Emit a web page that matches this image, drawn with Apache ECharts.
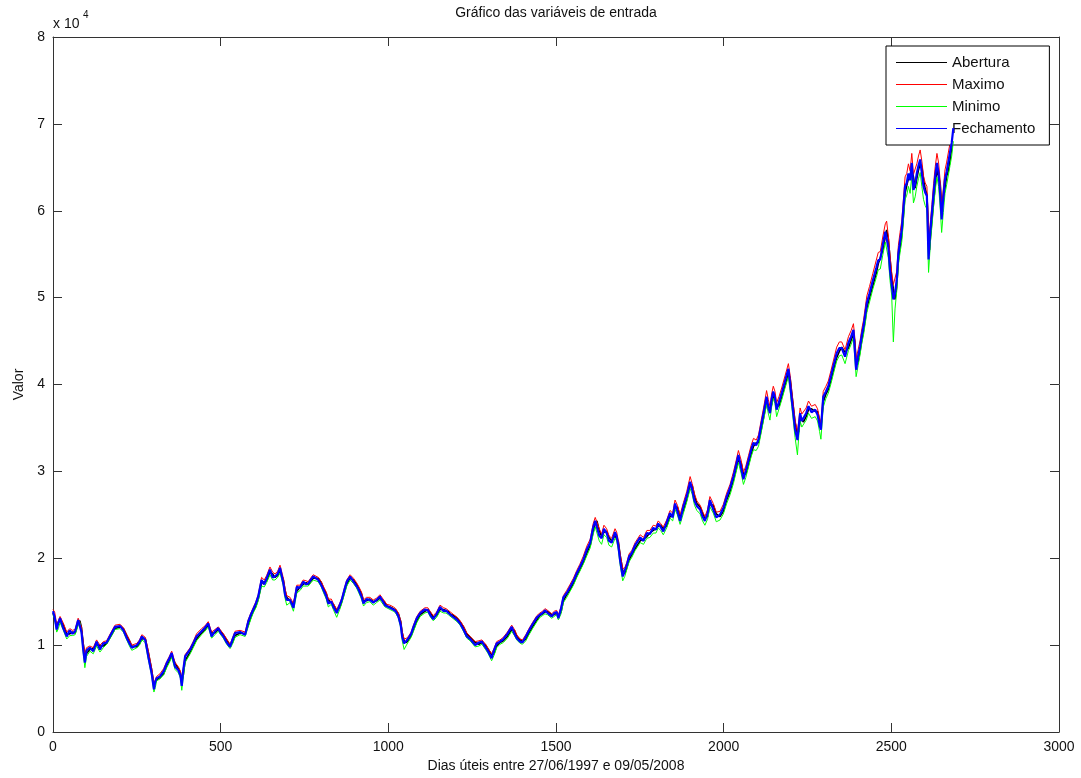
<!DOCTYPE html>
<html>
<head>
<meta charset="utf-8">
<title>Gráfico das variáveis de entrada</title>
<script src="https://cdn.jsdelivr.net/npm/echarts@6/dist/echarts.min.js"></script>
<style>
  html, body { margin: 0; padding: 0; background: #fff; }
  #chart { width: 1081px; height: 778px; }
</style>
</head>
<body>
<div id="chart"></div>
<script>
// dias úteis (eixo x) e valores
const dias = [
  0, 5, 11, 16, 21, 30, 41, 50, 58, 66, 75, 80, 85, 90, 95, 100, 110, 120, 130, 140,
  150, 160, 172, 185, 200, 210, 220, 228, 235, 250, 258, 265, 275, 284, 294, 301, 305, 309, 319, 330,
  339, 347, 354, 364, 374, 380, 384, 388, 394, 409, 418, 428, 443, 453, 463, 473, 483, 493, 500, 508,
  518, 528, 535, 543, 558, 573, 582, 590, 597, 605, 612, 622, 630, 637, 647, 655, 662, 670, 677, 687,
  692, 697, 707, 717, 727, 737, 746, 755, 761, 770, 776, 791, 800, 806, 815, 821, 830, 836, 846, 855,
  861, 870, 876, 886, 896, 905, 911, 920, 926, 935, 945, 955, 965, 975, 980, 990, 995, 1005, 1015, 1022,
  1030, 1037, 1041, 1047, 1054, 1060, 1068, 1075, 1085, 1095, 1109, 1118, 1126, 1134, 1144, 1154, 1165, 1172, 1179, 1184,
  1195, 1205, 1214, 1224, 1234, 1244, 1259, 1270, 1279, 1290, 1298, 1308, 1315, 1323, 1333, 1343, 1355, 1368, 1376, 1383,
  1393, 1400, 1410, 1418, 1430, 1443, 1452, 1460, 1467, 1475, 1487, 1495, 1502, 1507, 1515, 1522, 1532, 1542, 1552, 1562,
  1571, 1581, 1592, 1602, 1611, 1617, 1622, 1629, 1636, 1643, 1651, 1658, 1666, 1676, 1681, 1686, 1691, 1699, 1705, 1711,
  1718, 1726, 1736, 1751, 1761, 1771, 1780, 1790, 1798, 1805, 1812, 1820, 1830, 1840, 1848, 1855, 1862, 1870, 1880, 1890,
  1900, 1906, 1913, 1920, 1930, 1937, 1944, 1952, 1959, 1969, 1978, 1989, 1999, 2009, 2019, 2029, 2037, 2044, 2052, 2059,
  2066, 2074, 2082, 2089, 2097, 2104, 2112, 2119, 2128, 2133, 2138, 2143, 2148, 2153, 2158, 2165, 2173, 2183, 2193, 2198,
  2203, 2208, 2213, 2220, 2224, 2228, 2233, 2238, 2246, 2253, 2262, 2273, 2280, 2286, 2290, 2297, 2305, 2312, 2320, 2327,
  2337, 2345, 2352, 2362, 2372, 2380, 2387, 2391, 2395, 2401, 2407, 2412, 2417, 2422, 2427, 2435, 2445, 2455, 2461, 2467,
  2475, 2482, 2486, 2491, 2496, 2501, 2506, 2511, 2516, 2521, 2526, 2531, 2536, 2541, 2546, 2551, 2556, 2561, 2566, 2571,
  2576, 2581, 2586, 2591, 2596, 2601, 2606, 2611, 2614, 2617, 2621, 2626, 2631, 2636, 2641, 2646, 2650, 2655, 2660, 2665,
  2670, 2675, 2680, 2685
];

const abertura = [
  13700, 13600, 12300, 12100, 12800, 12400, 11300, 11300, 11500, 11400, 12500, 12800, 12000, 10200, 8800, 8900, 9500, 9600, 10100, 9900,
  9900, 10200, 11000, 11900, 12100, 11900, 11100, 10500, 9900, 9800, 10200, 10700, 10800, 9200, 7200, 5400, 5300, 6000, 6300, 6700,
  7600, 8200, 8800, 7900, 7300, 6800, 5800, 6400, 8200, 9200, 9900, 10700, 11400, 11800, 12300, 11400, 11400, 11800, 11600, 11200,
  10600, 10000, 10300, 11100, 11400, 11300, 12300, 13200, 13900, 14500, 15300, 17100, 17300, 17400, 18400, 18200, 17800, 18000, 18600, 17500,
  16300, 15500, 15100, 14700, 16200, 16700, 17000, 17200, 17000, 17400, 17700, 17700, 17200, 16600, 15900, 15200, 14900, 14700, 14000, 14300,
  15000, 16200, 17000, 17700, 17500, 17000, 16600, 15900, 15100, 15100, 15300, 15000, 15100, 15400, 15500, 14900, 14500, 14400, 14200, 14000,
  13600, 12700, 11500, 10500, 10300, 10600, 11100, 11800, 12800, 13500, 13900, 14100, 13700, 13200, 13400, 14100, 14100, 13900, 13900, 13600,
  13400, 13100, 12700, 12100, 11300, 10900, 10300, 10100, 10300, 10000, 9500, 8900, 9000, 9900, 10300, 10500, 11000, 11800, 11700, 11000,
  10600, 10400, 10700, 11300, 12100, 12900, 13400, 13600, 13800, 13900, 13500, 13500, 13700, 13400, 13800, 15100, 15800, 16400, 17100, 18000,
  18700, 19500, 20600, 21500, 23100, 24000, 24300, 23200, 22500, 23000, 23100, 22400, 22000, 22600, 22800, 21900, 20400, 18600, 18200, 18900,
  19800, 20400, 21100, 22000, 22200, 22500, 22900, 23200, 23400, 23700, 23800, 23400, 23700, 24800, 25000, 25800, 25900, 24800, 25500, 26800,
  28300, 28400, 27200, 26300, 25900, 25200, 24600, 24800, 26200, 26100, 25100, 24800, 25400, 26700, 27700, 29000, 30200, 31400, 31000, 29700,
  29700, 30800, 32000, 32900, 33300, 33300, 34800, 36200, 38000, 38000, 37100, 37700, 38800, 38900, 37700, 37500, 38600, 39900, 41200, 40800,
  39000, 37300, 35600, 34300, 34600, 36100, 36300, 35700, 36300, 37100, 37200, 36900, 36900, 35800, 35100, 38000, 38900, 39400, 40500, 41600,
  43100, 43800, 44300, 43700, 44200, 45100, 45800, 45000, 42600, 42600, 43900, 45100, 46200, 47400, 48800, 50000, 51400, 52800, 53900, 54600,
  55500, 57000, 57800, 56800, 54500, 52400, 51000, 49800, 51200, 54300, 55800, 57100, 59400, 62000, 62900, 63700, 64000, 64700, 63900, 62600,
  63700, 64700, 65400, 65100, 63600, 62500, 61900, 57500, 55500, 57200, 58900, 61000, 63000, 64800, 64900, 63000, 60300, 60200, 62600, 64000,
  64600, 65800, 67200, 68700
];

const maximo = [
  14100, 13800, 12400, 12800, 13300, 12600, 11500, 11900, 11700, 11800, 13100, 13100, 12100, 10400, 9000, 9700, 9900, 9700, 10600, 10000,
  10400, 10500, 11400, 12300, 12400, 12000, 11200, 10600, 10000, 10200, 10600, 11200, 10900, 9400, 7400, 5600, 6000, 6400, 6700, 7300,
  8100, 8700, 9300, 8000, 7500, 7000, 6000, 7200, 8900, 9700, 10400, 11300, 11900, 12200, 12700, 11500, 11800, 12100, 11700, 11300,
  10700, 10100, 10800, 11600, 11700, 11500, 12900, 13700, 14300, 15000, 15800, 17800, 17500, 18000, 19000, 18400, 18200, 18500, 19200, 17700,
  16500, 15700, 15500, 14800, 16900, 16900, 17500, 17400, 17300, 17800, 18100, 17800, 17300, 16800, 16100, 15300, 15300, 14800, 14100, 14800,
  15400, 16700, 17500, 18100, 17700, 17200, 16800, 16100, 15200, 15500, 15500, 15200, 15400, 15800, 15700, 15000, 14700, 14600, 14400, 14200,
  13700, 12800, 11600, 10700, 10800, 11000, 11500, 12300, 13300, 13900, 14300, 14300, 13800, 13400, 13800, 14600, 14300, 14200, 14000, 13800,
  13500, 13200, 12800, 12200, 11400, 11000, 10400, 10500, 10600, 10100, 9600, 9000, 9600, 10400, 10600, 10900, 11500, 12300, 11800, 11200,
  10700, 10600, 11200, 11800, 12600, 13400, 13700, 13900, 14200, 14000, 13600, 13900, 14000, 13500, 14400, 15700, 16300, 17000, 17700, 18600,
  19300, 20200, 21400, 22200, 24000, 24700, 24600, 23400, 22800, 23800, 23400, 22600, 22300, 23400, 23000, 22000, 20600, 18800, 18900, 19500,
  20500, 20900, 21800, 22700, 22400, 23200, 23200, 23800, 23700, 24300, 24000, 23600, 24400, 25500, 25200, 26700, 26100, 25000, 26400, 27700,
  29400, 28600, 27400, 26600, 26100, 25400, 24800, 25600, 27100, 26300, 25300, 25400, 26200, 27500, 28500, 29900, 31200, 32400, 31300, 29900,
  30600, 31800, 33000, 33800, 33600, 34200, 35900, 37300, 39300, 38300, 37500, 38900, 39800, 39200, 37900, 38600, 39600, 41000, 42400, 41100,
  39300, 37600, 35900, 34600, 35800, 37300, 36600, 36500, 37300, 38100, 37500, 37700, 37200, 36100, 35500, 39200, 39800, 40400, 41600, 42700,
  44300, 44900, 44900, 44000, 45500, 46200, 47000, 45400, 43000, 44000, 45100, 46400, 47400, 48800, 50200, 51300, 52800, 54300, 55200, 55300,
  57100, 58500, 58800, 57100, 54900, 52900, 51500, 51600, 53000, 56000, 57500, 58800, 61300, 63900, 64300, 65400, 64600, 66600, 64200, 64200,
  65400, 66300, 67000, 65700, 64000, 63200, 62800, 58200, 57400, 59000, 60700, 63100, 65100, 66600, 65500, 63300, 60600, 62500, 64700, 65600,
  65800, 67800, 68900, 70700
];

const minimo = [
  13500, 13000, 11500, 11900, 12600, 11800, 10700, 11100, 11100, 11200, 12300, 12600, 11200, 9200, 7400, 8700, 9300, 9000, 9900, 9200,
  9700, 10100, 10900, 11800, 11900, 11500, 10600, 9900, 9400, 9700, 10000, 10600, 10300, 8400, 6500, 4600, 5100, 5900, 6100, 6600,
  7400, 8000, 8600, 7200, 6800, 6200, 4800, 6100, 8000, 9000, 9700, 10500, 11200, 11600, 12100, 10800, 11200, 11600, 11200, 10800,
  10100, 9600, 10100, 10900, 11200, 11000, 12100, 13000, 13700, 14300, 15100, 16800, 16700, 17200, 18100, 17500, 17500, 17800, 18300, 16800,
  15400, 14600, 14900, 13900, 16000, 16300, 16800, 16800, 16800, 17200, 17500, 17300, 16700, 16100, 15300, 14400, 14700, 14100, 13200, 14100,
  14800, 16000, 16800, 17500, 17100, 16600, 16100, 15300, 14500, 14900, 15000, 14600, 14900, 15200, 15200, 14400, 14200, 14100, 13900, 13700,
  13100, 12000, 10600, 9500, 10000, 10400, 10900, 11600, 12600, 13300, 13700, 13800, 13200, 12800, 13200, 13900, 13700, 13700, 13500, 13300,
  13000, 12700, 12300, 11600, 10800, 10500, 9800, 9900, 10100, 9500, 9000, 8200, 8800, 9700, 10100, 10300, 10800, 11600, 11100, 10600,
  10200, 10100, 10500, 11100, 11900, 12700, 13200, 13400, 13600, 13500, 13100, 13300, 13500, 12900, 13600, 14900, 15500, 16200, 16900, 17800,
  18500, 19300, 20300, 21200, 22800, 23600, 23700, 22000, 21600, 22700, 22400, 21500, 21300, 22300, 22000, 20900, 19300, 17400, 17900, 18700,
  19600, 20100, 20900, 21800, 21600, 22300, 22400, 22900, 22900, 23500, 23200, 22700, 23500, 24600, 24300, 25600, 25000, 23900, 25200, 26500,
  28000, 27400, 26100, 25500, 25100, 24300, 23800, 24500, 25900, 25200, 24200, 24400, 25100, 26300, 27300, 28600, 29900, 31000, 29800, 28500,
  29300, 30500, 31700, 32500, 32400, 32900, 34500, 35900, 37700, 36700, 35900, 37400, 38400, 37800, 36300, 37200, 38200, 39600, 40900, 39300,
  37500, 35700, 33900, 31900, 34100, 35800, 35100, 35100, 35900, 36700, 36100, 36300, 35800, 34600, 33700, 37400, 38400, 39000, 40100, 41200,
  42700, 43300, 43400, 42400, 43900, 44600, 45400, 43100, 40900, 42200, 43500, 44800, 45700, 47000, 48300, 49500, 51000, 52300, 53200, 53300,
  55000, 56400, 56600, 54600, 52000, 50300, 44900, 48700, 50700, 53800, 55200, 56400, 58800, 61300, 61800, 62800, 62000, 64000, 60900, 61600,
  62800, 63700, 64400, 62800, 61300, 60600, 60200, 52900, 54700, 56600, 58200, 60500, 62400, 63900, 62800, 60200, 57500, 59800, 62000, 63000,
  63200, 65200, 66300, 68000
];

const fechamento = [
  13900, 13200, 11800, 12600, 13100, 12000, 11000, 11700, 11300, 11600, 12900, 12900, 11500, 9500, 8000, 9400, 9700, 9300, 10400, 9500,
  10200, 10300, 11200, 12100, 12200, 11700, 10800, 10200, 9700, 10000, 10400, 11000, 10600, 8700, 6800, 4900, 5800, 6200, 6400, 7000,
  7900, 8500, 9100, 7500, 7100, 6500, 5300, 7000, 8700, 9500, 10200, 11000, 11600, 12000, 12500, 11000, 11600, 11950, 11400, 11000,
  10300, 9800, 10600, 11400, 11500, 11200, 12700, 13500, 14100, 14800, 15600, 17500, 17000, 17700, 18700, 17800, 17900, 18200, 18900, 17100,
  15800, 15200, 15200, 14300, 16700, 16600, 17300, 17000, 17100, 17600, 17900, 17500, 16900, 16400, 15600, 14800, 15000, 14400, 13700, 14600,
  15200, 16500, 17300, 17900, 17300, 16800, 16400, 15600, 14800, 15300, 15200, 14900, 15200, 15600, 15400, 14600, 14400, 14300, 14100, 13900,
  13300, 12300, 11000, 10200, 10500, 10800, 11300, 12100, 13100, 13700, 14100, 14000, 13400, 13000, 13600, 14400, 13900, 14000, 13700, 13500,
  13200, 12900, 12500, 11800, 11000, 10700, 10000, 10300, 10400, 9700, 9250, 8500, 9400, 10200, 10400, 10700, 11300, 12100, 11300, 10800,
  10400, 10300, 11000, 11600, 12400, 13200, 13500, 13700, 14000, 13700, 13300, 13700, 13800, 13100, 14200, 15500, 16000, 16700, 17400, 18300,
  19000, 19800, 21000, 21800, 23600, 24300, 24200, 22600, 22300, 23400, 22900, 22000, 21800, 23000, 22500, 21400, 19800, 17900, 18600, 19200,
  20200, 20600, 21500, 22400, 22000, 22900, 22800, 23500, 23300, 24000, 23600, 23100, 24100, 25200, 24700, 26300, 25400, 24300, 26000, 27200,
  28800, 27900, 26600, 26000, 25600, 24800, 24300, 25200, 26700, 25600, 24700, 25000, 25800, 27100, 28100, 29400, 30700, 31900, 30400, 29100,
  30100, 31300, 32500, 33300, 33000, 33700, 35300, 36700, 38600, 37400, 36700, 38300, 39200, 38500, 37100, 38000, 39000, 40400, 41800, 40100,
  38300, 36600, 34800, 33600, 35200, 36700, 35800, 35900, 36700, 37500, 36800, 37100, 36500, 35300, 34800, 38600, 39200, 39800, 41000, 42100,
  43600, 44200, 44200, 43200, 44800, 45500, 46300, 44000, 41700, 43300, 44400, 45700, 46700, 48000, 49400, 50500, 52000, 53400, 54300, 54400,
  56200, 57600, 57800, 55800, 53200, 51500, 49800, 50500, 52000, 55100, 56500, 57800, 60300, 62800, 63200, 64300, 63500, 65500, 62400, 63100,
  64300, 65200, 65900, 64300, 62800, 62100, 61700, 54400, 56500, 58000, 59700, 62000, 64000, 65500, 64300, 61700, 59000, 61500, 63600, 64500,
  64700, 66700, 67800, 69500
];

const xTicks = [0, 500, 1000, 1500, 2000, 2500, 3000];
const yTicks = [0, 1, 2, 3, 4, 5, 6, 7, 8];

const nomes = ["Abertura", "Maximo", "Minimo", "Fechamento"];
const cores = ["#000000", "#ff0000", "#00ff00", "#0000ff"];
const larguras = [1.6, 1, 1, 2.2];
const valores = [abertura, maximo, minimo, fechamento];

const fonte = "Liberation Sans, Arial, sans-serif";
const corEixo = "#333333";

const chart = echarts.init(document.getElementById("chart"), null, { renderer: "canvas" });

const eixoX = (pos, labels) => ({
  type: "value",
  position: pos,
  min: xTicks[0],
  max: xTicks[xTicks.length - 1],
  interval: 500,
  splitLine: { show: false },
  axisLine: { show: true, onZero: false, lineStyle: { color: corEixo, width: 1 } },
  axisTick: { show: true, inside: true, length: 9, lineStyle: { color: corEixo } },
  axisLabel: {
    show: labels,
    margin: 8,
    color: "#111",
    fontSize: 14,
    fontFamily: fonte,
    formatter: (v) => String(v),
  },
});

const eixoY = (pos, labels) => ({
  type: "value",
  position: pos,
  min: 0,
  max: yTicks[yTicks.length - 1] * 10000,
  interval: 10000,
  splitLine: { show: false },
  axisLine: { show: true, onZero: false, lineStyle: { color: corEixo, width: 1 } },
  axisTick: { show: true, inside: true, length: 9, lineStyle: { color: corEixo } },
  axisLabel: {
    show: labels,
    margin: 8,
    color: "#111",
    fontSize: 14,
    fontFamily: fonte,
    formatter: (v) => String(v / 10000),
  },
});

const xBottom = eixoX("bottom", true);
xBottom.name = "Dias úteis entre 27/06/1997 e 09/05/2008";
xBottom.nameLocation = "middle";
xBottom.nameGap = 26;
xBottom.nameTextStyle = { color: "#111", fontSize: 14, fontFamily: fonte };

const yLeft = eixoY("left", true);
yLeft.name = "Valor";
yLeft.nameLocation = "middle";
yLeft.nameGap = 26;
yLeft.nameTextStyle = { color: "#111", fontSize: 14, fontFamily: fonte };

const option = {
  animation: false,
  backgroundColor: "#ffffff",
  grid: { left: 53, right: 22, top: 37, bottom: 46, containLabel: false, outerBoundsMode: "none" },
  graphic: [
    {
      type: "text",
      x: 556,
      y: 6,
      style: { text: "Gráfico das variáveis de entrada", align: "center", fill: "#111", fontSize: 14, fontFamily: fonte },
    },
    {
      type: "text",
      x: 53,
      y: 17,
      style: { text: "x 10", fill: "#111", fontSize: 14, fontFamily: fonte },
    },
    {
      type: "text",
      x: 83,
      y: 10,
      style: { text: "4", fill: "#111", fontSize: 10, fontFamily: fonte },
    },
  ],
  legend: {
    orient: "vertical",
    left: 886,
    top: 46,
    data: nomes,
    icon: "rect",
    backgroundColor: "#ffffff",
    borderColor: "#000000",
    borderWidth: 1,
    borderRadius: 0,
    padding: [9, 14, 9, 10],
    itemWidth: 51,
    itemHeight: 1,
    itemGap: 7,
    textStyle: { color: "#111", fontSize: 15, fontFamily: fonte },
  },
  xAxis: [xBottom, eixoX("top", false)],
  yAxis: [yLeft, eixoY("right", false)],
  series: nomes.map((nome, k) => ({
    name: nome,
    type: "line",
    xAxisIndex: 0,
    yAxisIndex: 0,
    symbol: "none",
    z: 2 + k,
    lineStyle: { color: cores[k], width: larguras[k] },
    itemStyle: { color: cores[k] },
    data: dias.map((d, i) => [d, valores[k][i]]),
  })),
};

chart.setOption(option);
</script>
</body>
</html>
